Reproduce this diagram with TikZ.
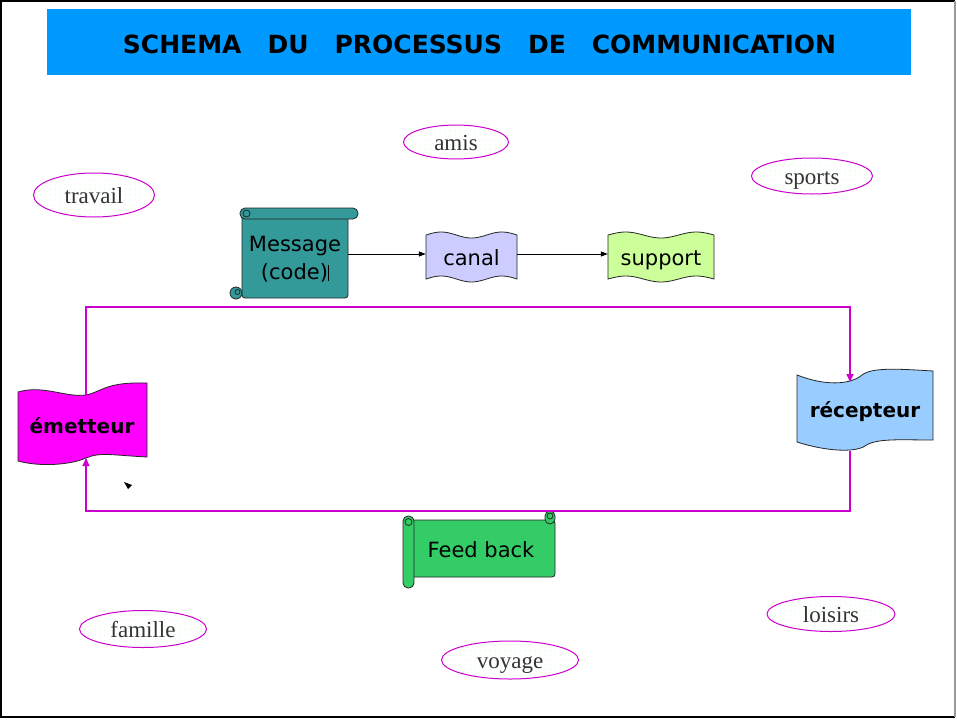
\documentclass[tikz,border=0pt]{standalone}
\usepackage{fontspec}
\setmainfont{DejaVu Sans}
\newfontfamily\ellfont{Liberation Serif}
\usetikzlibrary{arrows.meta,patterns.meta,shapes.geometric}
\definecolor{titleblue}{HTML}{0099FF}
\definecolor{msgteal}{HTML}{339999}
\definecolor{canalc}{HTML}{CCCCFF}
\definecolor{supportc}{HTML}{CCFF99}
\definecolor{emetc}{HTML}{FF00FF}
\definecolor{recepc}{HTML}{99CCFF}
\definecolor{feedc}{HTML}{33CC66}
\definecolor{loopc}{HTML}{CC00CC}
\definecolor{elltext}{HTML}{333333}
\tikzset{
  ell/.style={ellipse, draw=loopc, line width=1pt, inner sep=0pt,
    pattern={Dots[radius=0.5pt,distance=5pt]}, pattern color=green!30,
    font=\ellfont\fontsize{23}{26}\selectfont, text=elltext,
    text height=20pt, text depth=4pt},
  shapeline/.style={draw=black!85, line width=0.8pt},
  lbl/.style={inner sep=0pt, font=\fontsize{21}{28}\selectfont, align=center,
    text height=7.5pt, text depth=2.5pt},
  blbl/.style={inner sep=0pt, font=\bfseries\fontsize{20}{24}\selectfont,
    text height=7.5pt, text depth=2.5pt},
  flow/.style={draw=black, line width=0.8pt, -{Triangle[length=7pt,width=5pt]}},
  loop/.style={draw=loopc, line width=1.2pt, -{Triangle[length=8pt,width=7pt]}}
}
\begin{document}
\begin{tikzpicture}[x=1pt,y=-1pt]
\useasboundingbox (0,0) rectangle (957,720);
\fill[white] (0,0) rectangle (957,720);
% frame
\draw[black, line width=2pt] (955,1) -- (1,1) -- (1,717) -- (955,717);
\draw[black!40, line width=1.5pt] (955,1) -- (955,717);

% title
\fill[titleblue] (47,9) rectangle (911,75);
\node[inner sep=0pt, font=\bfseries\fontsize{25}{28}\selectfont] (title) at (479.5,44)
  {SCHEMA\hspace{26pt}DU\hspace{26pt}PROCESSUS\hspace{26pt}DE\hspace{26pt}COMMUNICATION};

% ellipses
\node[ell, minimum width=105, minimum height=32] (amis) at (456,142) {amis};
\node[ell, minimum width=121, minimum height=44] (travail) at (94,195) {travail};
\node[ell, minimum width=121, minimum height=36] (sports) at (812,176) {sports};
\node[ell, minimum width=127, minimum height=37] (famille) at (143,629) {famille};
\node[ell, minimum width=137, minimum height=38] (voyage) at (510,660) {voyage};
\node[ell, minimum width=128, minimum height=35] (loisirs) at (831,614) {loisirs};

% message scroll
\filldraw[fill=msgteal, shapeline, rounded corners=3pt] (242,214) rectangle (348,298);
\filldraw[fill=msgteal, shapeline, rounded corners=5pt] (240,208) rectangle (358,219);
\draw[shapeline] (246.5,213.5) circle (3.5);
\filldraw[fill=msgteal, shapeline] (236,293) circle (6);
\draw[shapeline] (237.5,292) circle (2.5);
\node[inner sep=0pt, font=\fontsize{21}{28}\selectfont, align=center,
  minimum width=106, minimum height=80] (msg) at (295,259)
  {Message\\(code)\rule[-2pt]{1pt}{16pt}};

% canal
\filldraw[fill=canalc, shapeline]
  plot[domain=0:91, samples=40] ({426+\x},{235-3*sin(5.934*\x)})
  -- plot[domain=91:0, samples=40] ({426+\x},{279-3*sin(5.934*\x)}) -- cycle;
\node[lbl, minimum width=91, minimum height=44] (canal) at (471.5,263) {canal};

% support
\filldraw[fill=supportc, shapeline]
  plot[domain=0:106, samples=40] ({608+\x},{235-3*sin(5.094*\x)})
  -- plot[domain=106:0, samples=40] ({608+\x},{279-3*sin(5.094*\x)}) -- cycle;
\node[lbl, minimum width=106, minimum height=44] (support) at (661,263) {support};

\draw[flow] ([yshift=5pt]msg.east) -- ([yshift=9pt]canal.west);
\draw[flow] ([yshift=9pt]canal.east) -- ([yshift=9pt]support.west);

% emetteur
\filldraw[fill=emetc, shapeline]
  (18,392) .. controls (45,384) and (70,400) .. (90,394)
  .. controls (105,389) and (110,382) .. (147,383)
  -- (147,457) .. controls (110,455) and (100,452) .. (86,458)
  .. controls (70,465) and (40,467) .. (18,461) -- cycle;
\node[blbl] (emet) at (82,431) {émetteur};

% recepteur
\filldraw[fill=recepc, shapeline]
  (797,375) .. controls (825,386) and (850,385) .. (862,375)
  .. controls (872,367) and (900,369) .. (933,371)
  -- (933,440) .. controls (900,440) and (876,438) .. (865,446)
  .. controls (854,453) and (825,451) .. (797,442) -- cycle;
\node[blbl] (recep) at (865,415) {récepteur};

% feed back scroll
\filldraw[fill=feedc, shapeline, rounded corners=3pt] (410,520) rectangle (555,577);
\filldraw[fill=feedc, shapeline, rounded corners=5pt] (545,511) rectangle (555,524);
\draw[shapeline] (550,516) circle (3);
\filldraw[fill=feedc, shapeline, rounded corners=5pt] (403,516) rectangle (414,588);
\draw[shapeline] (408.5,522) circle (3.5);
\node[lbl] (feed) at (481,555) {Feed back};

% loop connectors
\coordinate (emTop) at (86,395);
\coordinate (emBot) at (86,458);
\coordinate (reTop) at (850,382);
\coordinate (reBot) at (850,451);
\coordinate (topLine) at (0,307);
\coordinate (botLine) at (0,511);
\draw[loop] (emTop) -- (emTop |- topLine) -- (reTop |- topLine) -- (reTop);
\draw[loop] (reBot) -- (reBot |- botLine) -- (emBot |- botLine) -- (emBot);

% stray arrowhead
\fill[black] (124,482) -- (132,485) -- (128,489) -- cycle;
\end{tikzpicture}
\end{document}
